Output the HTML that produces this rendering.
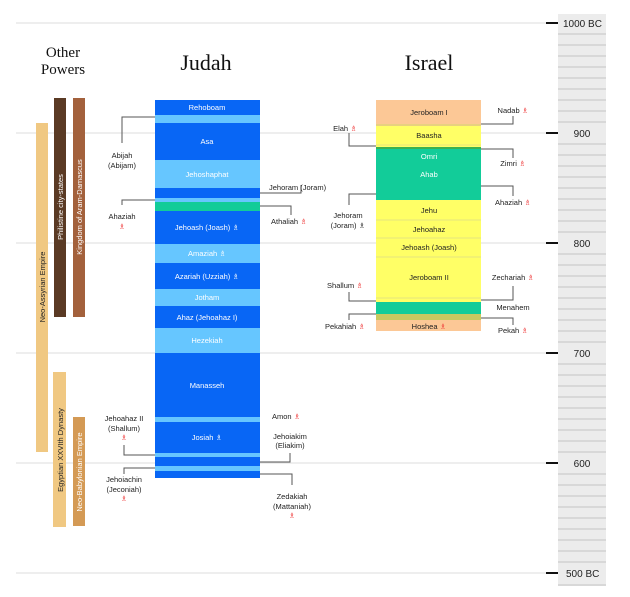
<!DOCTYPE html>
<html><head><meta charset="utf-8"><style>
body{margin:0;background:#fff}
svg{display:block}
text{font-family:"Liberation Sans","DejaVu Sans",sans-serif;font-size:7.5px;fill:#222}
.w{fill:#fff;text-anchor:middle}
.c{text-anchor:middle}
.s{fill:#e33}
.h{font-family:"Liberation Serif",serif;fill:#111;text-anchor:middle}
.v{font-size:7.5px}
.r{font-size:10px}
</style></head><body>
<svg width="630" height="597" viewBox="0 0 630 597" xmlns="http://www.w3.org/2000/svg">
<rect width="630" height="597" fill="#fff"/>
<rect x="558" y="14" width="48" height="572" fill="#ececec"/>
<g stroke="#c4c4c4" stroke-width="1">
<line x1="558" y1="34" x2="606" y2="34"/><line x1="558" y1="45" x2="606" y2="45"/><line x1="558" y1="56" x2="606" y2="56"/><line x1="558" y1="67" x2="606" y2="67"/><line x1="558" y1="78" x2="606" y2="78"/><line x1="558" y1="89" x2="606" y2="89"/><line x1="558" y1="100" x2="606" y2="100"/><line x1="558" y1="111" x2="606" y2="111"/><line x1="558" y1="122" x2="606" y2="122"/>
<line x1="558" y1="144" x2="606" y2="144"/><line x1="558" y1="155" x2="606" y2="155"/><line x1="558" y1="166" x2="606" y2="166"/><line x1="558" y1="177" x2="606" y2="177"/><line x1="558" y1="188" x2="606" y2="188"/><line x1="558" y1="199" x2="606" y2="199"/><line x1="558" y1="210" x2="606" y2="210"/><line x1="558" y1="221" x2="606" y2="221"/><line x1="558" y1="232" x2="606" y2="232"/>
<line x1="558" y1="254" x2="606" y2="254"/><line x1="558" y1="265" x2="606" y2="265"/><line x1="558" y1="276" x2="606" y2="276"/><line x1="558" y1="287" x2="606" y2="287"/><line x1="558" y1="298" x2="606" y2="298"/><line x1="558" y1="309" x2="606" y2="309"/><line x1="558" y1="320" x2="606" y2="320"/><line x1="558" y1="331" x2="606" y2="331"/><line x1="558" y1="342" x2="606" y2="342"/>
<line x1="558" y1="364" x2="606" y2="364"/><line x1="558" y1="375" x2="606" y2="375"/><line x1="558" y1="386" x2="606" y2="386"/><line x1="558" y1="397" x2="606" y2="397"/><line x1="558" y1="408" x2="606" y2="408"/><line x1="558" y1="419" x2="606" y2="419"/><line x1="558" y1="430" x2="606" y2="430"/><line x1="558" y1="441" x2="606" y2="441"/><line x1="558" y1="452" x2="606" y2="452"/>
<line x1="558" y1="474" x2="606" y2="474"/><line x1="558" y1="485" x2="606" y2="485"/><line x1="558" y1="496" x2="606" y2="496"/><line x1="558" y1="507" x2="606" y2="507"/><line x1="558" y1="518" x2="606" y2="518"/><line x1="558" y1="529" x2="606" y2="529"/><line x1="558" y1="540" x2="606" y2="540"/><line x1="558" y1="551" x2="606" y2="551"/><line x1="558" y1="562" x2="606" y2="562"/><line x1="558" y1="585" x2="606" y2="585"/>
</g>
<g stroke="#ddd" stroke-width="1">
<line x1="16" y1="23" x2="546" y2="23"/><line x1="16" y1="133" x2="546" y2="133"/><line x1="16" y1="243" x2="546" y2="243"/><line x1="16" y1="353" x2="546" y2="353"/><line x1="16" y1="463" x2="546" y2="463"/><line x1="16" y1="573" x2="546" y2="573"/>
</g>
<g stroke="#111" stroke-width="2">
<line x1="546" y1="23" x2="558" y2="23"/><line x1="546" y1="133" x2="558" y2="133"/><line x1="546" y1="243" x2="558" y2="243"/><line x1="546" y1="353" x2="558" y2="353"/><line x1="546" y1="463" x2="558" y2="463"/><line x1="546" y1="573" x2="558" y2="573"/>
</g>
<text class="r" x="563" y="27">1000 BC</text><text class="r c" x="582" y="137">900</text><text class="r c" x="582" y="247">800</text><text class="r c" x="582" y="357">700</text><text class="r c" x="582" y="467">600</text><text class="r" x="566" y="577">500 BC</text>
<text class="h" x="63" y="57" style="font-size:15px">Other</text>
<text class="h" x="63" y="74" style="font-size:15px">Powers</text>
<text class="h" x="206" y="70" style="font-size:22px">Judah</text>
<text class="h" x="429" y="70" style="font-size:22px">Israel</text>
<rect x="36" y="123" width="12" height="329" fill="#f0c882"/>
<rect x="54" y="98" width="12" height="219" fill="#5a3a24"/>
<rect x="73" y="98" width="12" height="219" fill="#a3613c"/>
<rect x="53" y="372" width="13" height="155" fill="#f0c882"/>
<rect x="73" y="417" width="12" height="109" fill="#d49a55"/>
<text class="v" transform="translate(45,287) rotate(-90)" text-anchor="middle">Neo-Assyrian Empire</text>
<text class="v" transform="translate(63,207) rotate(-90)" text-anchor="middle" style="fill:#fff">Philistine city-states</text>
<text class="v" transform="translate(82,207) rotate(-90)" text-anchor="middle" style="fill:#fff">Kingdom of Aram-Damascus</text>
<text class="v" transform="translate(63,450) rotate(-90)" text-anchor="middle">Egyptian XXVIth Dynasty</text>
<text class="v" transform="translate(82,472) rotate(-90)" text-anchor="middle" style="fill:#fff">Neo-Babylonian Empire</text>
<g>
<rect x="155" y="100" width="105" height="15" fill="#0866f5"/>
<rect x="155" y="115" width="105" height="8" fill="#66c6ff"/>
<rect x="155" y="123" width="105" height="37" fill="#0866f5"/>
<rect x="155" y="160" width="105" height="28" fill="#66c6ff"/>
<rect x="155" y="188" width="105" height="10" fill="#0866f5"/>
<rect x="155" y="198" width="105" height="4" fill="#66c6ff"/>
<rect x="155" y="202" width="105" height="9" fill="#12cc99"/>
<rect x="155" y="211" width="105" height="33" fill="#0866f5"/>
<rect x="155" y="244" width="105" height="19" fill="#66c6ff"/>
<rect x="155" y="263" width="105" height="26" fill="#0866f5"/>
<rect x="155" y="289" width="105" height="17" fill="#66c6ff"/>
<rect x="155" y="306" width="105" height="22" fill="#0866f5"/>
<rect x="155" y="328" width="105" height="25" fill="#66c6ff"/>
<rect x="155" y="353" width="105" height="64" fill="#0866f5"/>
<rect x="155" y="417" width="105" height="5" fill="#66c6ff"/>
<rect x="155" y="422" width="105" height="31" fill="#0866f5"/>
<rect x="155" y="453" width="105" height="4" fill="#66c6ff"/>
<rect x="155" y="457" width="105" height="9" fill="#0866f5"/>
<rect x="155" y="466" width="105" height="5" fill="#66c6ff"/>
<rect x="155" y="471" width="105" height="7" fill="#0866f5"/>
</g>
<text class="w" x="207" y="110">Rehoboam</text>
<text class="w" x="207" y="144">Asa</text>
<text class="w" x="207" y="177">Jehoshaphat</text>
<text class="w" x="207" y="230">Jehoash (Joash) ♗</text>
<text class="w" x="207" y="256">Amaziah ♗</text>
<text class="w" x="207" y="279">Azariah (Uzziah) ♗</text>
<text class="w" x="207" y="300">Jotham</text>
<text class="w" x="207" y="320">Ahaz (Jehoahaz I)</text>
<text class="w" x="207" y="343">Hezekiah</text>
<text class="w" x="207" y="388">Manasseh</text>
<text class="w" x="207" y="440">Josiah ♗</text>
<rect x="376" y="100" width="105" height="24" fill="#fcc896"/>
<rect x="376" y="124" width="105" height="2" fill="#e8d080"/>
<rect x="376" y="126" width="105" height="22" fill="#ffff66"/>
<line x1="376" y1="145" x2="481" y2="145" stroke="#dddd88" stroke-width="0.7"/>
<rect x="376" y="147" width="105" height="2" fill="#3cb050"/>
<rect x="376" y="149" width="105" height="51" fill="#12cc99"/>
<rect x="376" y="200" width="105" height="102" fill="#ffff66"/>
<g stroke="#dddd88" stroke-width="0.7"><line x1="376" y1="220" x2="481" y2="220"/><line x1="376" y1="238" x2="481" y2="238"/><line x1="376" y1="257" x2="481" y2="257"/><line x1="376" y1="298" x2="481" y2="298"/></g>
<rect x="376" y="302" width="105" height="12" fill="#12cc99"/>
<rect x="376" y="314" width="105" height="6" fill="#c8c860"/>
<rect x="376" y="320" width="105" height="11" fill="#fcc896"/>
<text class="c" x="429" y="115">Jeroboam I</text>
<text class="c" x="429" y="138">Baasha</text>
<text class="w" x="429" y="159">Omri</text>
<text class="w" x="429" y="177">Ahab</text>
<text class="c" x="429" y="213">Jehu</text>
<text class="c" x="429" y="232">Jehoahaz</text>
<text class="c" x="429" y="250">Jehoash (Joash)</text>
<text class="c" x="429" y="280">Jeroboam II</text>
<text class="c" x="429" y="329">Hoshea <tspan class="s">♗</tspan></text>
<g stroke="#555" stroke-width="1" fill="none">
<polyline points="155,117 122,117 122,143"/>
<polyline points="260,193 301,193 301,185"/>
<polyline points="155,200 122,200 122,205"/>
<polyline points="260,206 291,206 291,215"/>
<polyline points="155,455 124,455 124,445"/>
<polyline points="260,462 290,462 290,453"/>
<polyline points="155,468 124,468 124,474"/>
<polyline points="260,474 292,474 292,485"/>
<polyline points="481,124 513,124 513,116"/>
<polyline points="376,146 349,146 349,133"/>
<polyline points="481,149 513,149 513,158"/>
<polyline points="481,186 513,186 513,196"/>
<polyline points="376,194 349,194 349,205"/>
<polyline points="481,300 513,300 513,286"/>
<polyline points="376,301 349,301 349,292"/>
<polyline points="376,314 349,314 349,320"/>
<polyline points="481,318 513,318 513,325"/>
</g>
<text class="c" x="122" y="158">Abijah</text><text class="c" x="122" y="168">(Abijam)</text>
<text x="269" y="190">Jehoram (Joram)</text>
<text class="c" x="122" y="219">Ahaziah</text><text class="c s" x="122" y="229">♗</text>
<text x="271" y="224">Athaliah <tspan class="s">♗</tspan></text>
<text x="272" y="419">Amon <tspan class="s">♗</tspan></text>
<text class="c" x="124" y="421">Jehoahaz II</text><text class="c" x="124" y="431">(Shallum)</text><text class="c s" x="124" y="440">♗</text>
<text class="c" x="290" y="439">Jehoiakim</text><text class="c" x="290" y="448">(Eliakim)</text>
<text class="c" x="124" y="482">Jehoiachin</text><text class="c" x="124" y="492">(Jeconiah)</text><text class="c s" x="124" y="501">♗</text>
<text class="c" x="292" y="499">Zedakiah</text><text class="c" x="292" y="509">(Mattaniah)</text><text class="c s" x="292" y="518">♗</text>
<text class="c" x="513" y="113">Nadab <tspan class="s">♗</tspan></text>
<text class="c" x="345" y="131">Elah <tspan class="s">♗</tspan></text>
<text class="c" x="513" y="166">Zimri <tspan class="s">♗</tspan></text>
<text class="c" x="513" y="205">Ahaziah <tspan class="s">♗</tspan></text>
<text class="c" x="348" y="218">Jehoram</text><text class="c" x="348" y="228">(Joram) ♗</text>
<text class="c" x="513" y="280">Zechariah <tspan class="s">♗</tspan></text>
<text class="c" x="345" y="288">Shallum <tspan class="s">♗</tspan></text>
<text class="c" x="513" y="310">Menahem</text>
<text class="c" x="345" y="329">Pekahiah <tspan class="s">♗</tspan></text>
<text class="c" x="513" y="333">Pekah <tspan class="s">♗</tspan></text>
</svg>
</body></html>
